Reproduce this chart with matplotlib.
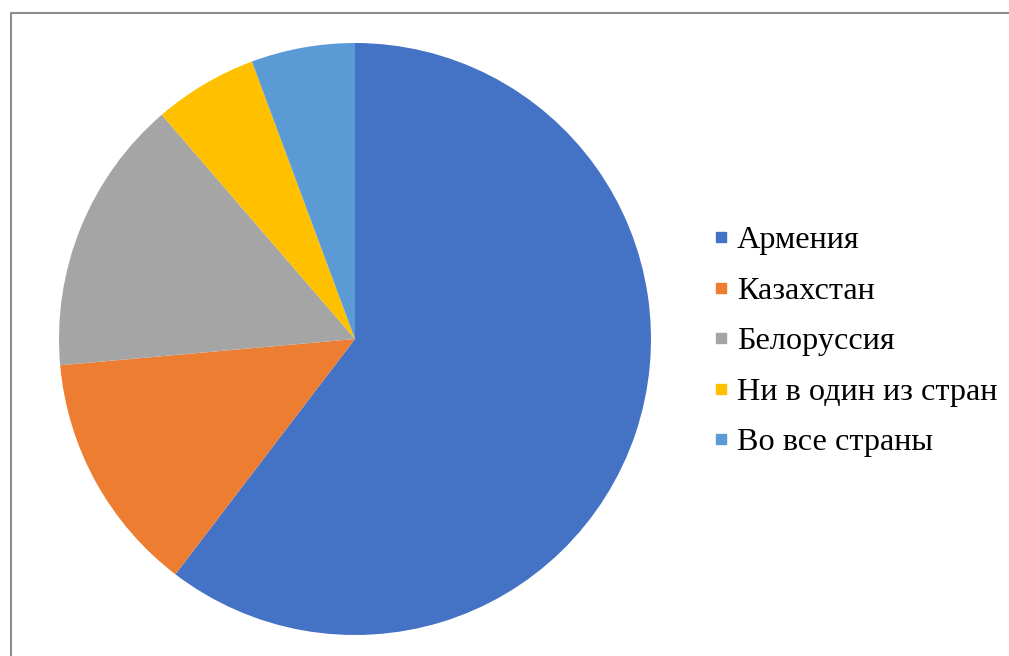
import matplotlib
matplotlib.use("Agg")
import matplotlib.pyplot as plt
from matplotlib.lines import Line2D

categories = ["Армения", "Казахстан", "Белоруссия", "Ни в один из стран", "Во все страны"]
values = [32, 7, 8, 3, 3]
colors = ["#4472C4", "#ED7D31", "#A5A5A5", "#FFC000", "#5B9BD5"]

W, H = 1009, 656
fig = plt.figure(figsize=(W / 100, H / 100), dpi=100)
plt.rcParams['font.family'] = ['Liberation Serif', 'DejaVu Serif']

# frame (left and top edges visible)
fig.add_artist(Line2D([10.5 / W, 10.5 / W, 1.0], [0, 1 - 12.5 / H, 1 - 12.5 / H],
                      transform=fig.transFigure, color="#8c8c8c", linewidth=1.5))

cx, cy, r = 355, 339, 296
ax = fig.add_axes([(cx - r) / W, (H - cy - r) / H, 2 * r / W, 2 * r / H])
ax.pie(values, colors=colors, startangle=90, counterclock=False,
       wedgeprops=dict(linewidth=0))
ax.set_xlim(-1, 1)
ax.set_ylim(-1, 1)
ax.set_aspect("equal")
ax.axis("off")

handles = [Line2D([], [], marker="s", linestyle="none", markersize=7.5,
                  markerfacecolor=c, markeredgecolor=c) for c in colors]
fig.legend(handles, categories, loc="upper left",
           bbox_to_anchor=(700 / W, 1 - 213 / H), frameon=False,
           fontsize=23.2, handlelength=0.5, handletextpad=0.25,
           labelspacing=0.65, borderaxespad=0)

fig.savefig("out.png", dpi=100)
